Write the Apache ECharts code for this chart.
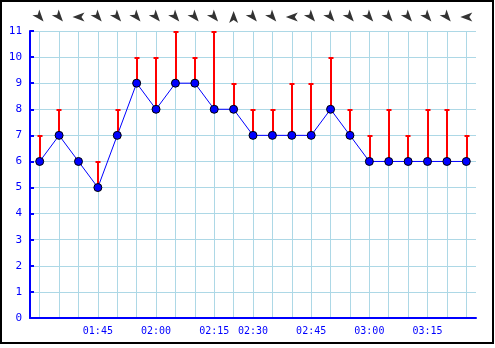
<!DOCTYPE html>
<html>
<head>
<meta charset="utf-8">
<script src="https://cdn.jsdelivr.net/npm/echarts@6/dist/echarts.min.js"></script>
<style>
html,body{margin:0;padding:0;background:#fff;}
#chart{width:495px;height:348px;}
</style>
</head>
<body>
<div id="chart"></div>
<script>
// Data
var times = ["01:30","01:35","01:40","01:45","01:50","01:55","02:00","02:05","02:10","02:15","02:20",
             "02:30","02:35","02:40","02:45","02:50","02:55","03:00","03:05","03:10","03:15","03:20","03:25"];
var speed = [6,7,6,5,7,9,8,9,9,8,8,7,7,7,7,8,7,6,6,6,6,6,6];
var gust  = [7,8,6,6,8,10,10,11,10,11,9,8,8,9,9,10,8,7,8,7,8,8,7];
var direction = [140,140,270,140,140,140,140,140,140,140,0,140,140,270,140,140,140,140,140,140,140,140,270];
var shownLabels = ["01:45","02:00","02:15","02:30","02:45","03:00","03:15"];

var blue = '#0000ff';
var gridBlue = '#add8e6';
var font = 'DejaVu Sans Mono';

var gustData = speed.map(function(v, i){ return [i, v, gust[i]]; });
var dirData = direction.map(function(d, i){ return {value:[i, 0.5], symbolRotate: -d}; });

// same pixel snapping as the grid lines (1px)
function snapPixel(p){
  var d = Math.round(p * 2);
  var pos = (d + 1) % 2 === 0 ? d / 2 : (d - 1) / 2;
  return Math.floor(pos);
}

var chart = echarts.init(document.getElementById('chart'), null, {renderer:'canvas'});
chart.setOption({
  animation: false,
  backgroundColor: '#fff',
  graphic: [{
    type: 'rect', shape: {x: 1, y: 1, width: 492, height: 342},
    style: {fill: 'none', stroke: '#000', lineWidth: 2}, silent: true
  }],
  grid: [
    {left: 30, right: 19, top: 31, bottom: 30},
    {left: 30, right: 19, top: 8, height: 18}
  ],
  xAxis: [{
    type: 'category', data: times, boundaryGap: true, gridIndex: 0, z: 0,
    axisLine: {lineStyle: {color: blue, width: 2}},
    axisTick: {inside: true, length: 4, alignWithLabel: true, interval: 0, lineStyle: {color: blue, width: 1}},
    splitLine: {show: true, alignWithLabel: true, interval: 0, lineStyle: {color: gridBlue, width: 1}},
    axisLabel: {
      interval: 0, color: blue, fontFamily: font, fontSize: 10, margin: 8,
      formatter: function(v){ return shownLabels.indexOf(v) >= 0 ? v : ''; }
    }
  }, {
    type: 'category', data: times, boundaryGap: true, gridIndex: 1, show: false
  }],
  yAxis: [{
    type: 'value', min: 0, max: 11, interval: 1, gridIndex: 0, z: 0,
    axisLine: {show: true, lineStyle: {color: blue, width: 2}},
    axisTick: {show: true, inside: true, length: 4, lineStyle: {color: blue, width: 2}},
    splitLine: {show: true, lineStyle: {color: gridBlue, width: 1}},
    axisLabel: {color: blue, fontFamily: font, fontSize: 11, margin: 8}
  }, {
    type: 'value', min: 0, max: 1, gridIndex: 1, show: false
  }],
  series: [{
    type: 'custom', xAxisIndex: 0, yAxisIndex: 0, z: 5, clip: false,
    data: gustData,
    renderItem: function(params, api){
      if (api.value(2) <= api.value(1)) return {type: 'group', children: []};
      var p0 = api.coord([api.value(0), api.value(1)]);
      var p1 = api.coord([api.value(0), api.value(2)]);
      var x = snapPixel(p0[0]);
      var yTop = Math.round(p1[1]);
      var yBot = Math.round(p0[1]);
      return {type: 'group', children: [
        {type: 'rect', shape: {x: x, y: yTop, width: 2, height: yBot - yTop}, style: {fill: '#ff0000'}},
        {type: 'rect', shape: {x: x - 1.5, y: yTop, width: 5, height: 2}, style: {fill: '#ff0000'}}
      ]};
    }
  }, {
    type: 'line', xAxisIndex: 0, yAxisIndex: 0, z: 6,
    data: speed,
    symbol: 'circle', symbolSize: 8,
    lineStyle: {color: blue, width: 1},
    itemStyle: {color: blue, borderColor: '#000', borderWidth: 1}
  }, {
    type: 'scatter', xAxisIndex: 1, yAxisIndex: 1,
    data: dirData,
    symbol: 'path://M0,-7 L4,5 L0,2 L-4,5 Z',
    symbolSize: [9, 12],
    itemStyle: {color: '#000'}
  }]
});
</script>
</body>
</html>
